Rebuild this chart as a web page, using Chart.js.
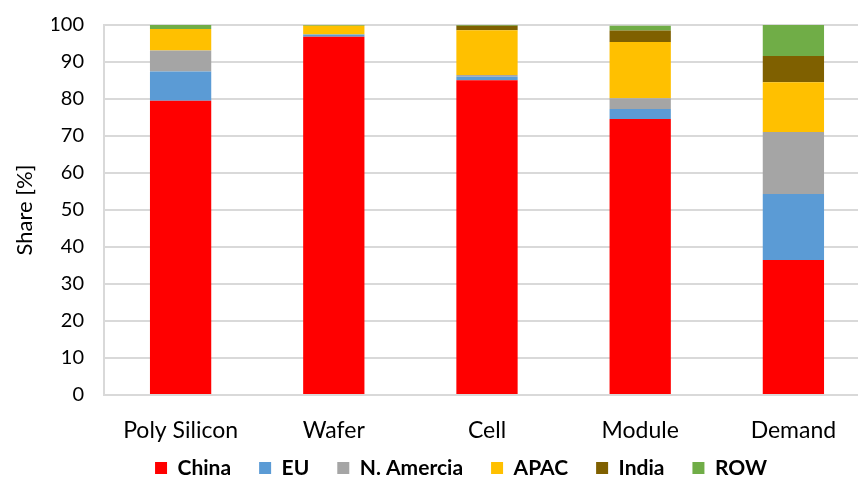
<!DOCTYPE html>
<html>
<head>
<meta charset="utf-8">
<script src="https://cdn.jsdelivr.net/npm/chart.js@4/dist/chart.umd.min.js"></script>
<style>
  html, body { margin: 0; padding: 0; background: #fff; overflow: hidden; width: 858px; height: 481px; }
  #wrap { position: absolute; left: 0; top: -7px; width: 922px; height: 488px; }
</style>
</head>
<body>
<div id="wrap"><canvas id="c" width="922" height="488"></canvas></div>
<script>
const categories = ["Poly Silicon", "Wafer", "Cell", "Module", "Demand"];
const china     = [79.5, 96.8, 85.1, 74.6, 36.5];
const eu        = [7.9, 0.6, 0.9, 2.7, 17.8];
const nAmerica  = [5.7, 0.0, 0.5, 2.9, 16.8];
const apac      = [5.8, 2.4, 12.1, 15.2, 13.4];
const india     = [0.0, 0.0, 1.2, 3.1, 7.1];
const row       = [1.1, 0.2, 0.2, 1.3, 8.4];
const yTicks    = [0, 10, 20, 30, 40, 50, 60, 70, 80, 90, 100];

const FONT = "Lato, 'Open Sans', sans-serif";
const series = [
  { label: "China", data: china, color: "#FF0000" },
  { label: "EU", data: eu, color: "#5B9BD5" },
  { label: "N. Amercia", data: nAmerica, color: "#A5A5A5" },
  { label: "APAC", data: apac, color: "#FFC000" },
  { label: "India", data: india, color: "#7F6000" },
  { label: "ROW", data: row, color: "#70AD47" }
];

// let the x-axis labels overflow their (shortened) axis box instead of being clipped
const unclipX = {
  id: "unclipX",
  afterLayout(chart) { chart.scales.x.bottom = chart.height; }
};

new Chart(document.getElementById("c"), {
  type: "bar",
  data: {
    labels: categories,
    datasets: series.map(s => ({
      label: s.label,
      data: s.data,
      backgroundColor: s.color,
      borderWidth: 0,
      barPercentage: 0.4,
      categoryPercentage: 1.0
    }))
  },
  plugins: [unclipX],
  options: {
    responsive: false,
    animation: false,
    layout: { padding: { left: 52, right: 52, top: 7, bottom: 0 } },
    scales: {
      x: {
        stacked: true,
        afterFit(scale) { scale.height = 34.5; },
        grid: { display: false },
        border: { display: true, color: "#D9D9D9", width: 2 },
        ticks: { color: "#000", font: { family: FONT, size: 23 }, padding: 14 }
      },
      y: {
        stacked: true,
        min: 0, max: 100,
        afterFit(scale) { scale.width = 52; },
        afterBuildTicks(scale) { scale.ticks = yTicks.map(v => ({ value: v })); },
        grid: { color: "#D9D9D9", lineWidth: 2, drawTicks: false },
        border: { display: true, color: "#D9D9D9", width: 2 },
        ticks: { color: "#000", font: { family: FONT, size: 20 }, padding: 20 },
        title: {
          display: true, text: "Share [%]", color: "#000",
          font: { family: FONT, size: 22 },
          padding: { top: -40, bottom: 0 }
        }
      }
    },
    plugins: {
      legend: {
        position: "bottom",
        maxHeight: 51.5,
        labels: {
          color: "#000",
          font: { family: FONT, size: 21, weight: "bold" },
          boxWidth: 12, boxHeight: 12, padding: 28
        }
      },
      tooltip: { enabled: false }
    }
  }
});
</script>
</body>
</html>
